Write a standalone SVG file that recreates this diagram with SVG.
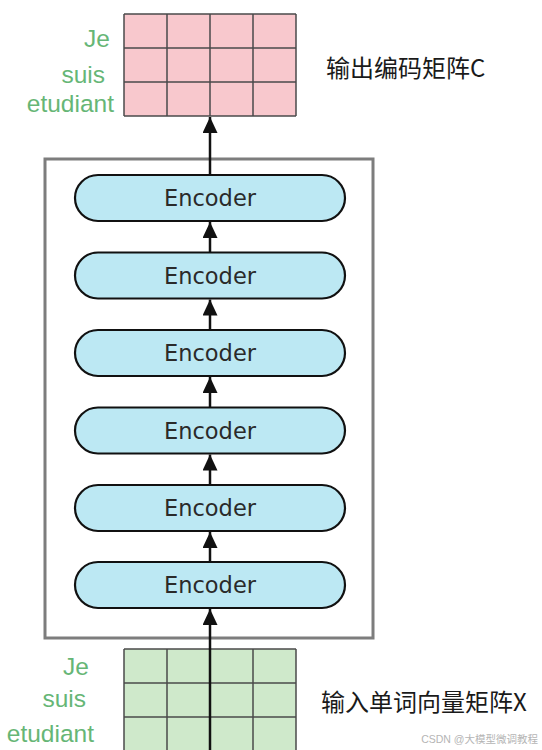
<svg xmlns="http://www.w3.org/2000/svg" width="542" height="750" viewBox="0 0 542 750">
<style>
.grid{stroke:#4a4a4a;stroke-width:1.5}
.pink{fill:#f8c8cd}
.green{fill:#cfe9cb}
.word{font-family:"Liberation Sans",Arial,sans-serif;font-size:24.5px;fill:#66b676}
.enc rect{fill:#bce8f3;stroke:#111;stroke-width:2.2}
.enc text{font-family:"DejaVu Sans",sans-serif;font-size:22.5px;fill:#2a2a2a;text-anchor:middle}
.cn{font-family:"Noto Sans CJK SC",sans-serif;font-size:24px;fill:#1a1a1a}
.conn line{stroke:#111;stroke-width:2.5}
</style>
<defs>
<marker id="ah" markerUnits="userSpaceOnUse" markerWidth="16" markerHeight="15" refX="16" refY="7.5" orient="auto" viewBox="0 0 16 15">
<path d="M0,0 L16,7.5 L0,15 Z" fill="#111"/>
</marker>
</defs>
<rect width="542" height="750" fill="#fff"/>

<g id="container">
<rect x="45" y="159" width="328" height="479" fill="none" stroke="#7d7d7d" stroke-width="3"/>
</g>

<g id="output-matrix">
<rect class="pink" x="124" y="14" width="172" height="102"/>
<g class="grid">
<line x1="124" y1="14" x2="296" y2="14"/>
<line x1="124" y1="48" x2="296" y2="48"/>
<line x1="124" y1="82" x2="296" y2="82"/>
<line x1="124" y1="116" x2="296" y2="116"/>
<line x1="124" y1="14" x2="124" y2="116"/>
<line x1="167" y1="14" x2="167" y2="116"/>
<line x1="210" y1="14" x2="210" y2="116"/>
<line x1="253" y1="14" x2="253" y2="116"/>
<line x1="296" y1="14" x2="296" y2="116"/>
</g>
<text class="word" x="110" y="47" text-anchor="end">Je</text>
<text class="word" x="105" y="83" text-anchor="end">suis</text>
<text class="word" x="114" y="112" text-anchor="end">etudiant</text>
<text class="cn" x="326" y="77">输出编码矩阵C</text>
</g>

<g id="input-matrix">
<rect class="green" x="124" y="649" width="172" height="102"/>
<g class="grid">
<line x1="124" y1="649" x2="296" y2="649"/>
<line x1="124" y1="683" x2="296" y2="683"/>
<line x1="124" y1="717" x2="296" y2="717"/>
<line x1="124" y1="649" x2="124" y2="751"/>
<line x1="167" y1="649" x2="167" y2="751"/>
<line x1="253" y1="649" x2="253" y2="751"/>
<line x1="296" y1="649" x2="296" y2="751"/>
</g>
<text class="word" x="89" y="675" text-anchor="end">Je</text>
<text class="word" x="86" y="707" text-anchor="end">suis</text>
<text class="word" x="94" y="742" text-anchor="end">etudiant</text>
<text class="cn" x="321" y="711">输入单词向量矩阵X</text>
</g>

<g id="enc1" class="enc"><rect x="75" y="175" width="270" height="46" rx="23"/><text x="210" y="206">Encoder</text></g>
<g id="enc2" class="enc"><rect x="75" y="252.5" width="270" height="46" rx="23"/><text x="210" y="283.5">Encoder</text></g>
<g id="enc3" class="enc"><rect x="75" y="330" width="270" height="46" rx="23"/><text x="210" y="361">Encoder</text></g>
<g id="enc4" class="enc"><rect x="75" y="407.5" width="270" height="46" rx="23"/><text x="210" y="438.5">Encoder</text></g>
<g id="enc5" class="enc"><rect x="75" y="485" width="270" height="46" rx="23"/><text x="210" y="516">Encoder</text></g>
<g id="enc6" class="enc"><rect x="75" y="562" width="270" height="46" rx="23"/><text x="210" y="593">Encoder</text></g>

<g id="connectors" class="conn">
<line x1="210" y1="175" x2="210" y2="117" marker-end="url(#ah)"/>
<line x1="210" y1="252.5" x2="210" y2="222" marker-end="url(#ah)"/>
<line x1="210" y1="330" x2="210" y2="299.5" marker-end="url(#ah)"/>
<line x1="210" y1="407.5" x2="210" y2="377" marker-end="url(#ah)"/>
<line x1="210" y1="485" x2="210" y2="454.5" marker-end="url(#ah)"/>
<line x1="210" y1="562" x2="210" y2="532" marker-end="url(#ah)"/>
<line x1="210" y1="751" x2="210" y2="609" marker-end="url(#ah)"/>
</g>

<text x="538" y="743" text-anchor="end" font-family="Liberation Sans,Arial,Noto Sans CJK SC,sans-serif" font-size="10.5" fill="#b5b5b5">CSDN @大模型微调教程</text>
</svg>
